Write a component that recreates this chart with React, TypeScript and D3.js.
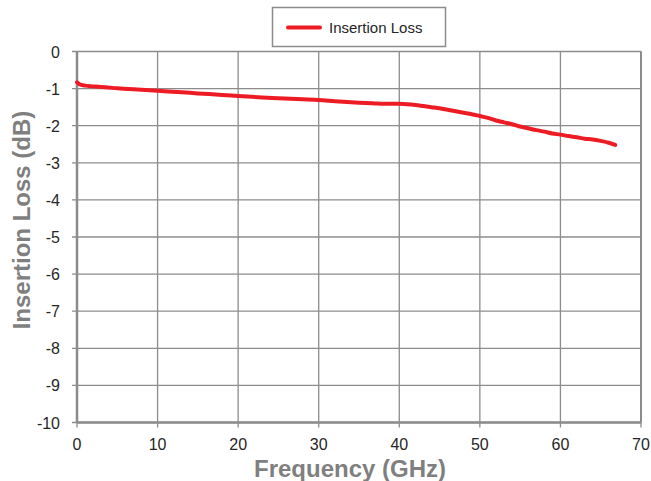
import React from "react";
import * as d3 from "d3";

const freqs = [0, 0.3, 1, 2, 3, 5, 7, 10, 13, 15, 18, 20, 23, 25, 28, 30, 32, 35, 37, 38, 40, 41, 42, 43, 44, 45, 46, 47, 48, 49, 50, 51, 52, 53, 54, 55, 56, 57, 58, 59, 60, 61, 62, 63, 64, 65, 66, 66.8];
const loss = [-0.83, -0.88, -0.92, -0.94, -0.96, -0.99, -1.02, -1.06, -1.1, -1.13, -1.17, -1.2, -1.24, -1.26, -1.29, -1.31, -1.34, -1.38, -1.4, -1.41, -1.41, -1.42, -1.44, -1.47, -1.5, -1.53, -1.57, -1.61, -1.65, -1.69, -1.74, -1.79, -1.86, -1.91, -1.96, -2.02, -2.07, -2.12, -2.16, -2.21, -2.24, -2.28, -2.31, -2.35, -2.37, -2.41, -2.46, -2.52];
const xTicks = [0, 10, 20, 30, 40, 50, 60, 70];
const yTicks = [0, -1, -2, -3, -4, -5, -6, -7, -8, -9, -10];
const seriesName = "Insertion Loss";

export default function App() {
  const W = 651, H = 481;
  const left = 77, right = 641, top = 51.5, bottom = 422.5;
  const x = d3.scaleLinear().domain([0, 70]).range([left, right]);
  const y = d3.scaleLinear().domain([0, -10]).range([top, bottom]);
  const pts: [number, number][] = freqs.map((f, i) => [f, loss[i]]);
  const line = d3.line<[number, number]>().x(d => x(d[0])).y(d => y(d[1])).curve(d3.curveMonotoneX);
  const grid = "#8c8c8c";
  const font = "'Liberation Sans', Arial, sans-serif";
  return (
    <svg width={W} height={H} style={{ position: "absolute", left: 0, top: 0, background: "#fff" }} fontFamily={font}>
      <rect width={W} height={H} fill="#fff" />
      {xTicks.map(t => (
        <g key={"x" + t}>
          <line x1={x(t)} x2={x(t)} y1={top} y2={bottom + 5} stroke={grid} strokeWidth={1.3} />
          <text x={x(t)} y={bottom + 27} textAnchor="middle" fontSize={16} fill="#262626">{t}</text>
        </g>
      ))}
      {yTicks.map(t => (
        <g key={"y" + t}>
          <line x1={left - 5} x2={right} y1={y(t)} y2={y(t)} stroke={grid} strokeWidth={1.3} />
          <text x={left - 17} y={y(t) + 6} textAnchor="end" fontSize={16} fill="#262626">{t}</text>
        </g>
      ))}
      <line x1={left} x2={left} y1={top} y2={bottom} stroke="#8c8c8c" strokeWidth={2.5} />
      <line x1={left} x2={right} y1={bottom} y2={bottom} stroke="#8c8c8c" strokeWidth={2.5} />
      <line x1={right} x2={right} y1={top} y2={bottom} stroke="#8c8c8c" strokeWidth={2} />
      <path d={line(pts) || ""} fill="none" stroke="#ed1c24" strokeWidth={4} strokeLinecap="round" />
      <text x={350} y={476.5} textAnchor="middle" fontSize={24} fontWeight="bold" fill="#7f7f7f">Frequency (GHz)</text>
      <text transform={`translate(30,220) rotate(-90)`} textAnchor="middle" fontSize={24} fontWeight="bold" fill="#7f7f7f">Insertion Loss (dB)</text>
      <rect x={272.5} y={7.5} width={173} height={39} fill="#fff" stroke="#8c8c8c" strokeWidth={1.5} />
      <line x1={288} x2={320} y1={27.5} y2={27.5} stroke="#ed1c24" strokeWidth={4} strokeLinecap="round" />
      <text x={329} y={33} fontSize={15} fill="#262626">{seriesName}</text>
    </svg>
  );
}
